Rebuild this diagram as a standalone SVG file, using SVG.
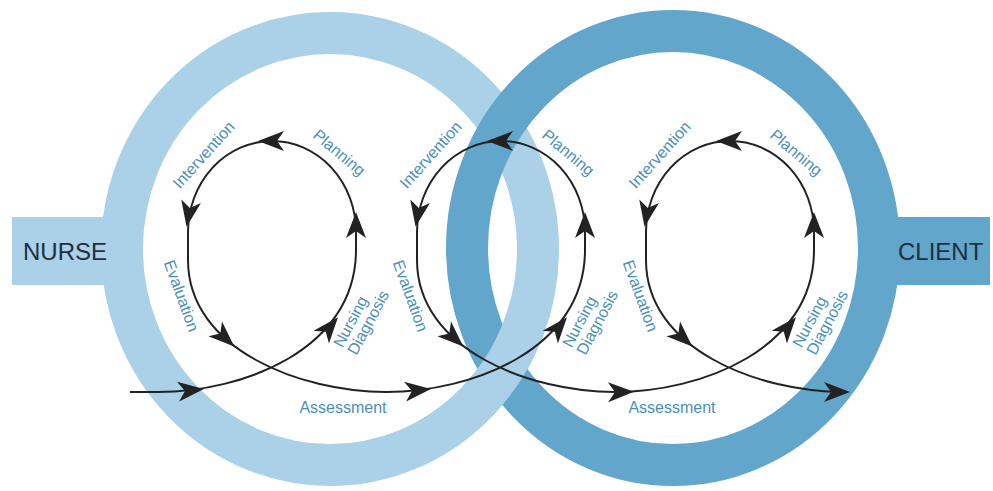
<svg xmlns="http://www.w3.org/2000/svg" xmlns:xlink="http://www.w3.org/1999/xlink" width="993" height="491" viewBox="0 0 993 491">
<style>
.lbl{font-family:"Liberation Sans",Arial,sans-serif;font-size:16px;fill:#4a8fba}
.big{font-family:"Liberation Sans",Arial,sans-serif;font-size:24px;fill:#1d2f40}
.flow{fill:none;stroke:#222;stroke-width:2}
.light{fill:none;stroke:#aad1e7}
.dark{fill:none;stroke:#62a6cc}
</style>
<defs>
<path id="ah" d="M14,0 L-12,-10 L-5,0 L-12,10 Z" fill="#222"/>
<clipPath id="botx"><rect x="420" y="300" width="200" height="191"/></clipPath>
</defs>
<rect width="993" height="491" fill="#fff"/>
<g id="nurse">
<rect x="12" y="217" width="100" height="68" fill="#aad1e7"/>
<ellipse id="ringL" class="light" cx="330" cy="249" rx="208" ry="216" stroke-width="42"/>
<text class="big" x="23" y="260">NURSE</text>
</g>
<g id="client">
<rect x="880" y="217" width="110" height="68" fill="#62a6cc"/>
<ellipse class="dark" cx="673" cy="248" rx="206" ry="217" stroke-width="42"/>
<text class="big" x="898" y="260">CLIENT</text>
</g>
<g id="overlap" clip-path="url(#botx)">
<ellipse class="light" cx="330" cy="249" rx="208" ry="216" stroke-width="42"/>
</g>
<g id="connectors">
<path class="flow" d="M130,392 L158,392 C242,392 356,350 356,250 L356,232 A84 91 0 0 0 188,232 L188,260 C188,350 302,392 386,392 C471,392 585,350 585,250 L585,232 A84 91 0 0 0 417,232 L417,260 C417,350 531,392 615,392 C700,392 814,350 814,250 L814,232 A84 91 0 0 0 646,232 L646,260 C646,350 760,392 844,392"/>
<use xlink:href="#ah" transform="translate(190,390.4) rotate(-6)"/>
<use xlink:href="#ah" transform="translate(329,328) rotate(-50)"/>
<use xlink:href="#ah" transform="translate(356,226) rotate(-90)"/>
<use xlink:href="#ah" transform="translate(272,141) rotate(180)"/>
<use xlink:href="#ah" transform="translate(189,213) rotate(100)"/>
<use xlink:href="#ah" transform="translate(224,337) rotate(43)"/>
<use xlink:href="#ah" transform="translate(417,390.4) rotate(-6)"/>
<use xlink:href="#ah" transform="translate(558,328) rotate(-50)"/>
<use xlink:href="#ah" transform="translate(585,226) rotate(-90)"/>
<use xlink:href="#ah" transform="translate(501,141) rotate(180)"/>
<use xlink:href="#ah" transform="translate(418,213) rotate(100)"/>
<use xlink:href="#ah" transform="translate(453,337) rotate(43)"/>
<use xlink:href="#ah" transform="translate(620,392) rotate(-1)"/>
<use xlink:href="#ah" transform="translate(787,328) rotate(-50)"/>
<use xlink:href="#ah" transform="translate(814,226) rotate(-90)"/>
<use xlink:href="#ah" transform="translate(730,141) rotate(180)"/>
<use xlink:href="#ah" transform="translate(647,213) rotate(100)"/>
<use xlink:href="#ah" transform="translate(682,337) rotate(43)"/>
<use xlink:href="#ah" transform="translate(836,392)"/>
</g>
<g id="labels-loop1">
<text class="lbl" text-anchor="middle" y="5" transform="translate(204,155) rotate(-48)">Intervention</text>
<text class="lbl" text-anchor="middle" y="5" transform="translate(339,153) rotate(40)">Planning</text>
<text class="lbl" text-anchor="middle" y="5" transform="translate(181,296) rotate(70)">Evaluation</text>
<g transform="translate(361,320) rotate(-62)"><text class="lbl" x="-34" y="-3">Nursing</text><text class="lbl" x="-34" y="13">Diagnosis</text></g>
<text class="lbl" text-anchor="middle" x="343" y="413">Assessment</text>
</g>
<g id="labels-loop2">
<text class="lbl" text-anchor="middle" y="5" transform="translate(431,155) rotate(-48)">Intervention</text>
<text class="lbl" text-anchor="middle" y="5" transform="translate(568,153) rotate(40)">Planning</text>
<text class="lbl" text-anchor="middle" y="5" transform="translate(410,296) rotate(70)">Evaluation</text>
<g transform="translate(590,320) rotate(-62)"><text class="lbl" x="-34" y="-3">Nursing</text><text class="lbl" x="-34" y="13">Diagnosis</text></g>
<text class="lbl" text-anchor="middle" x="672" y="413">Assessment</text>
</g>
<g id="labels-loop3">
<text class="lbl" text-anchor="middle" y="5" transform="translate(660,155) rotate(-48)">Intervention</text>
<text class="lbl" text-anchor="middle" y="5" transform="translate(796,153) rotate(40)">Planning</text>
<text class="lbl" text-anchor="middle" y="5" transform="translate(640,296) rotate(70)">Evaluation</text>
<g transform="translate(820,320) rotate(-62)"><text class="lbl" x="-34" y="-3">Nursing</text><text class="lbl" x="-34" y="13">Diagnosis</text></g>
</g>
</svg>
